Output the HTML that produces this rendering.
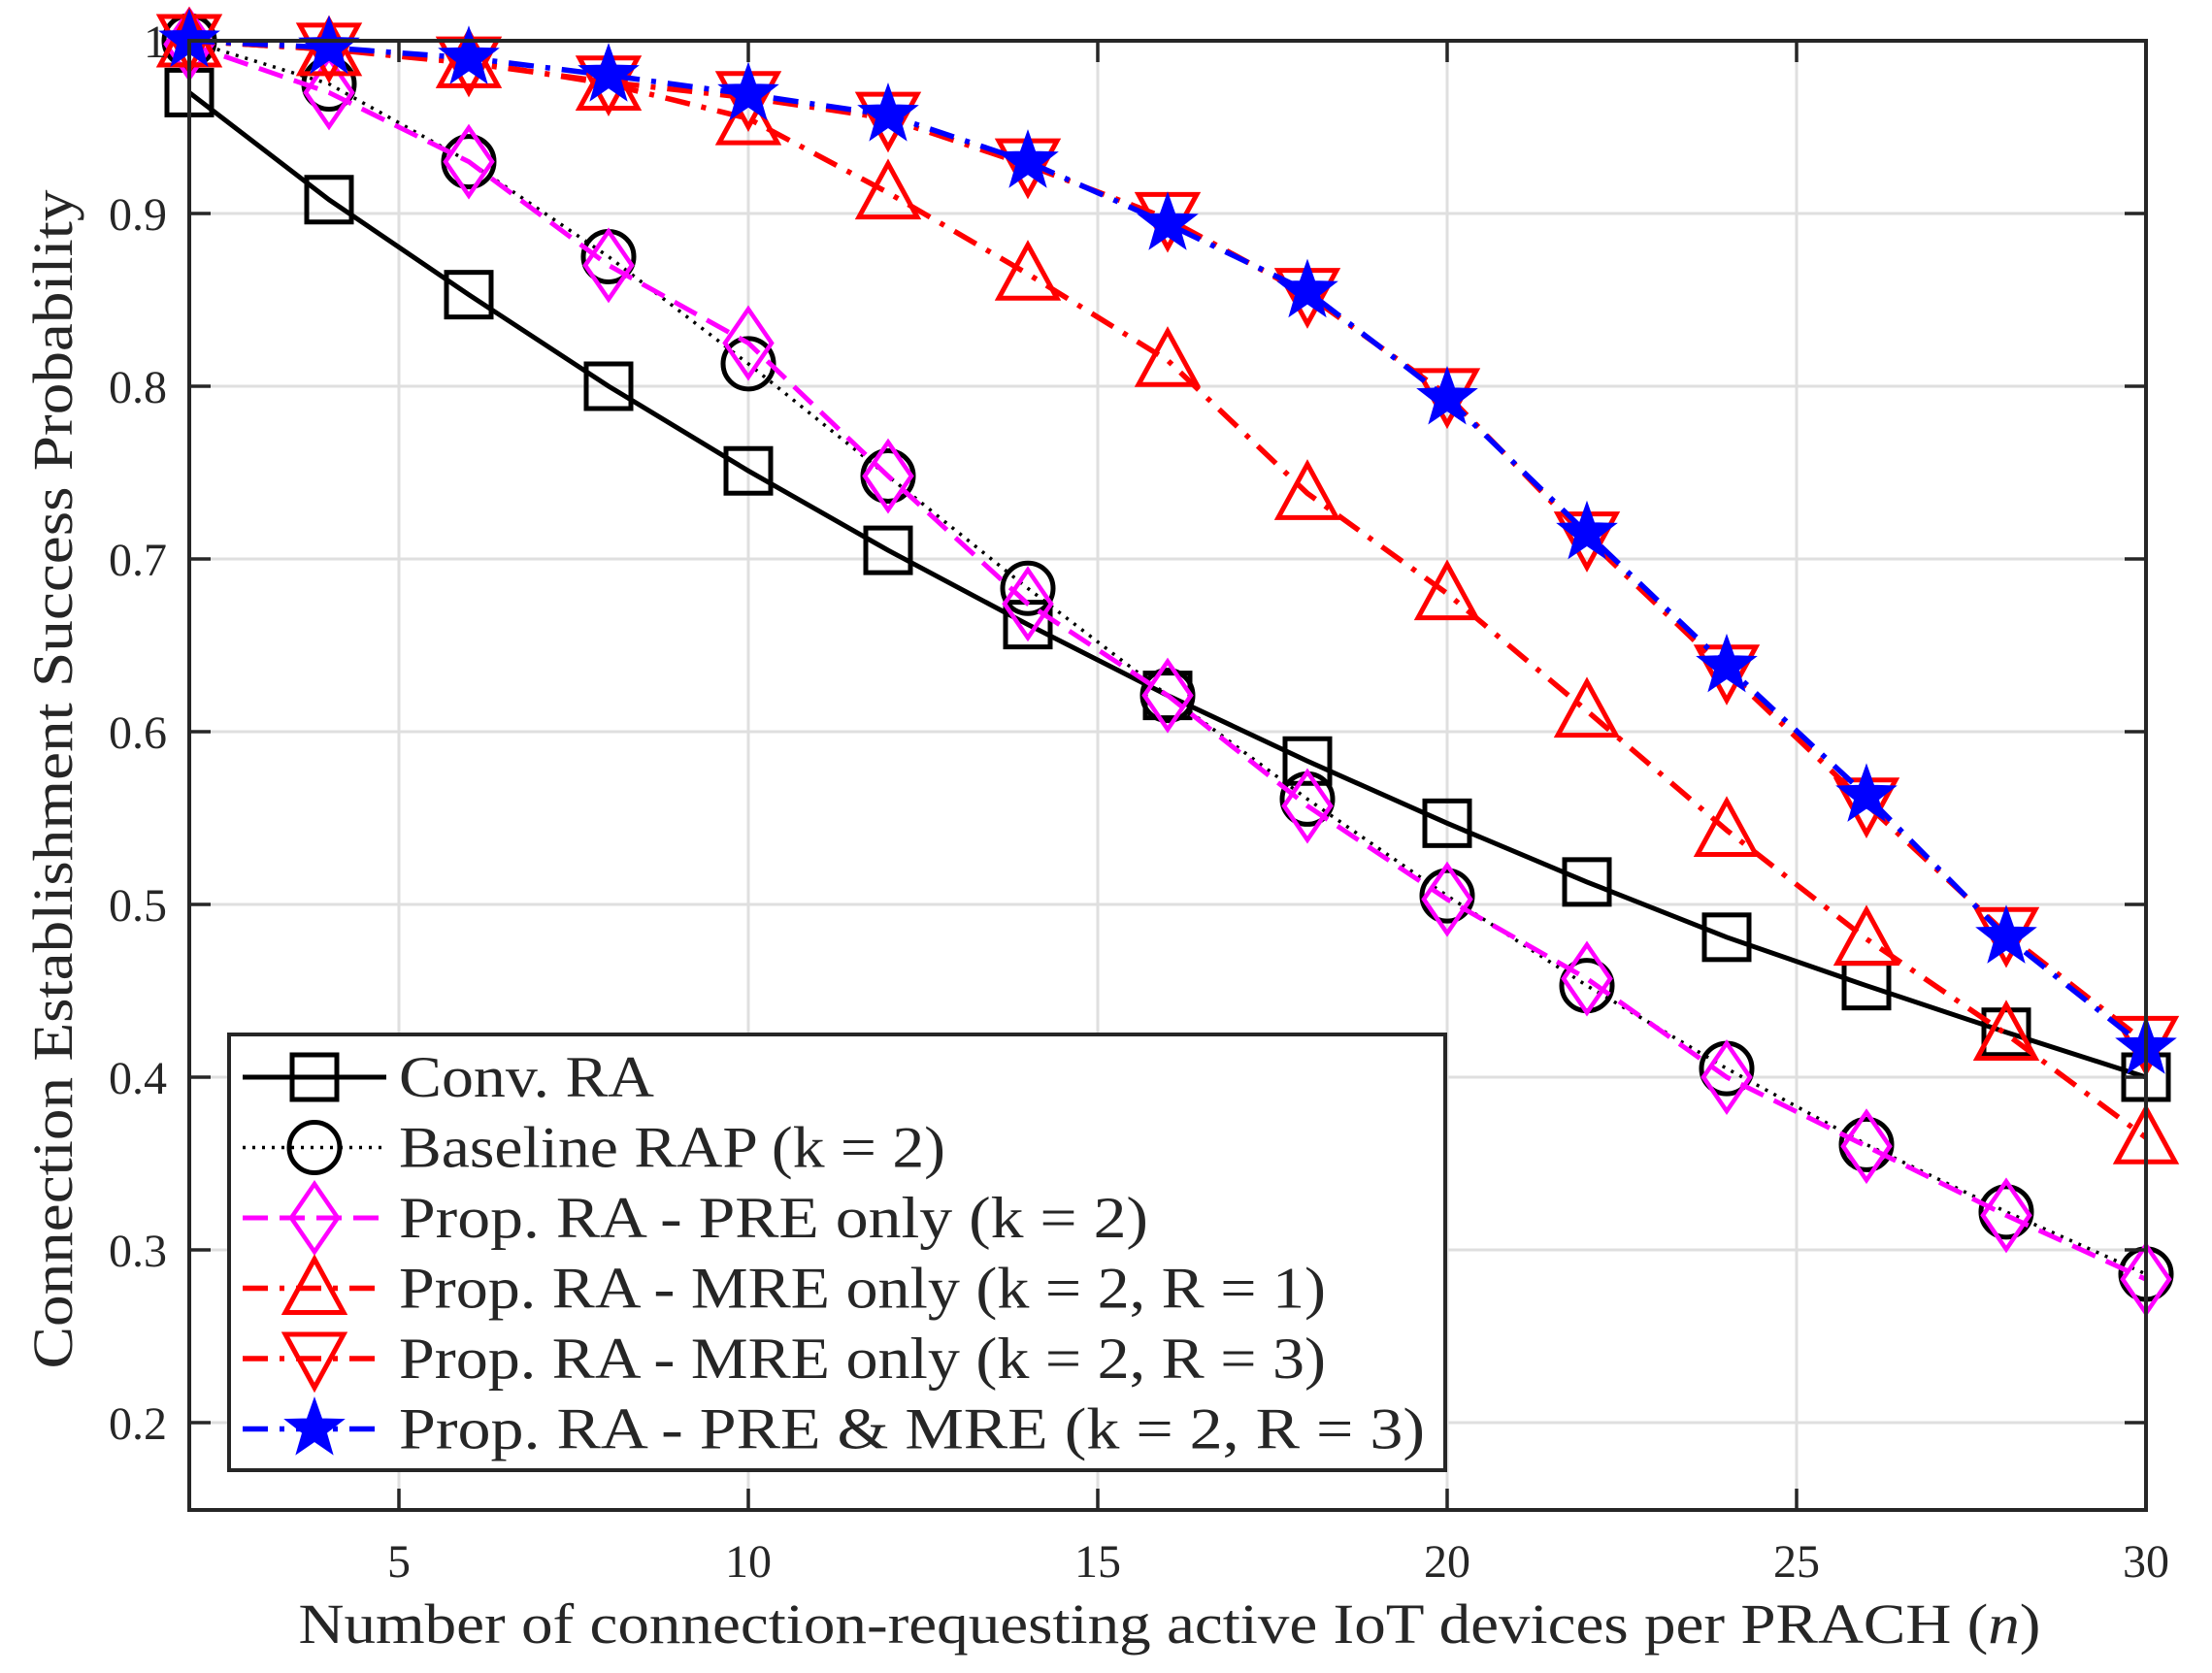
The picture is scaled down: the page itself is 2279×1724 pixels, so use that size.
<!DOCTYPE html>
<html><head><meta charset="utf-8"><style>
html,body{margin:0;padding:0;background:#fff}
svg{display:block}
text{font-family:"Liberation Serif",serif;fill:#262626}
</style></head><body>
<svg id="chart" width="2279" height="1724" viewBox="0 0 2279 1724" xmlns="http://www.w3.org/2000/svg">
<rect width="2279" height="1724" fill="#fff"/>
<g id="grid"></g>
<g id="series"></g>
<g id="axes"></g>
<g id="legend"></g>
<text x="1205" y="1693" font-size="58" text-anchor="middle" textLength="1795" lengthAdjust="spacingAndGlyphs">Number of connection-requesting active IoT devices per PRACH (<tspan font-style="italic">n</tspan>)</text>
<text transform="translate(74,803) rotate(-90)" font-size="58" text-anchor="middle" textLength="1215" lengthAdjust="spacingAndGlyphs">Connection Establishment Success Probability</text>
</svg>
<script>
const xValues = [2,4,6,8,10,12,14,16,18,20,22,24,26,28,30];
const convRA = [0.97,0.908,0.853,0.80,0.751,0.705,0.662,0.621,0.583,0.547,0.513,0.481,0.453,0.426,0.40];
const baselineRAP = [1.0,0.975,0.93,0.875,0.813,0.748,0.683,0.621,0.561,0.505,0.453,0.405,0.361,0.322,0.286];
const preOnly = [0.998,0.97,0.93,0.87,0.825,0.748,0.674,0.621,0.557,0.503,0.457,0.40,0.36,0.32,0.283];
const mreR1 = [1.0,0.995,0.988,0.975,0.955,0.912,0.865,0.815,0.738,0.68,0.612,0.543,0.48,0.425,0.365];
const mreR3 = [1.0,0.995,0.987,0.976,0.967,0.955,0.928,0.897,0.853,0.795,0.712,0.635,0.558,0.483,0.42];
const preMre = [1.0,0.996,0.99,0.98,0.969,0.957,0.93,0.894,0.855,0.793,0.715,0.638,0.563,0.481,0.417];
const xTicks = [5,10,15,20,25,30];
const yTicks = [0.2,0.3,0.4,0.5,0.6,0.7,0.8,0.9,1];
const yTickLabels = ["0.2","0.3","0.4","0.5","0.6","0.7","0.8","0.9","1"];
const legendLabels = ["Conv. RA","Baseline RAP (k = 2)","Prop. RA - PRE only (k = 2)","Prop. RA - MRE only (k = 2, R = 1)","Prop. RA - MRE only (k = 2, R = 3)","Prop. RA - PRE & MRE (k = 2, R = 3)"];

const L=195,R=2211,T=42,B=1556;
const XMIN=2,XMAX=30,YMIN=0.2-90/1780,YMAX=1.0;
const sx=v=>L+(v-XMIN)/(XMAX-XMIN)*(R-L);
const sy=v=>B-(v-YMIN)/(YMAX-YMIN)*(B-T);
const NS="http://www.w3.org/2000/svg";
function mk(tag,attrs,parent){const e=document.createElementNS(NS,tag);for(const k in attrs)e.setAttribute(k,attrs[k]);parent.appendChild(e);return e;}
const grid=document.getElementById('grid'),axes=document.getElementById('axes'),ser=document.getElementById('series'),leg=document.getElementById('legend');

xTicks.forEach(t=>{
  const g=mk('line',{x1:sx(t),x2:sx(t),y1:T,y2:B,stroke:'#dfdfdf','stroke-width':3},grid);
  
  
  const tk=mk('path',{d:`M${sx(t)},${B}v-22M${sx(t)},${T}v22`,stroke:'#262626','stroke-width':3.5},axes);
  
  
  const lb=mk('text',{x:sx(t),y:1625,'font-size':48,'text-anchor':'middle'},axes);
  lb.textContent=t;
  
  
});
yTicks.forEach((t,i)=>{
  const g=mk('line',{x1:L,x2:R,y1:sy(t),y2:sy(t),stroke:'#dfdfdf','stroke-width':3},grid);
  
  
  const tk=mk('path',{d:`M${L},${sy(t)}h22M${R},${sy(t)}h-22`,stroke:'#262626','stroke-width':3.5},axes);
  
  
  const lb=mk('text',{x:172,y:sy(t)+17,'font-size':48,'text-anchor':'end'},axes);
  lb.textContent=yTickLabels[i];
  
  
});
const frame=mk('rect',{x:L,y:T,width:R-L,height:B-T,fill:'none',stroke:'#262626','stroke-width':4},axes);



function marker(type,x,y,color,parent){
  let e;
  if(type==='square') e=mk('rect',{x:x-23,y:y-23,width:46,height:46,fill:'none',stroke:color,'stroke-width':5},parent);
  else if(type==='circle') e=mk('circle',{cx:x,cy:y,r:26,fill:'none',stroke:color,'stroke-width':5},parent);
  else if(type==='diamond') e=mk('path',{d:`M${x},${y-35}L${x+24},${y}L${x},${y+35}L${x-24},${y}Z`,fill:'none',stroke:color,'stroke-width':4.5},parent);
  else if(type==='up') e=mk('path',{d:`M${x},${y-30}L${x+30},${y+25}L${x-30},${y+25}Z`,fill:'none',stroke:color,'stroke-width':5},parent);
  else if(type==='down') e=mk('path',{d:`M${x},${y+30}L${x+30},${y-25}L${x-30},${y-25}Z`,fill:'none',stroke:color,'stroke-width':5},parent);
  else if(type==='star'){
    let p='';for(let i=0;i<10;i++){const r=i%2?13:32;const a=-Math.PI/2+i*Math.PI/5;p+=(i?'L':'M')+(x+r*Math.cos(a)).toFixed(1)+','+(y+r*Math.sin(a)).toFixed(1);}
    e=mk('path',{d:p+'Z',fill:color,stroke:color,'stroke-width':1},parent);
  }
  return e;
}
const seriesDefs=[
  {name:'conv-ra',data:convRA,color:'#000',dash:'',w:5,m:'square'},
  {name:'baseline-rap',data:baselineRAP,color:'#000',dash:'3 7',w:3.5,m:'circle'},
  {name:'pre-only',data:preOnly,color:'#ff00ff',dash:'26 12',w:5,m:'diamond'},
  {name:'mre-only-r1',data:mreR1,color:'#ff0000',dash:'26 12 5 12',w:5.5,m:'up'},
  {name:'mre-only-r3',data:mreR3,color:'#ff0000',dash:'26 12 5 12',w:5.5,m:'down'},
  {name:'pre-mre',data:preMre,color:'#0000ff',dash:'26 12 5 12',w:5.5,m:'star'}
];
seriesDefs.forEach(s=>{
  const g=mk('g',{},ser);
  
  
  const pts=xValues.map((x,i)=>sx(x).toFixed(1)+','+sy(s.data[i]).toFixed(1)).join(' ');
  const pl=mk('polyline',{points:pts,fill:'none',stroke:s.color,'stroke-width':s.w,'stroke-dasharray':s.dash},g);
  
  
  xValues.forEach((x,i)=>{
    const e=marker(s.m,sx(x),sy(s.data[i]),s.color,g);
    
    
  });
});

const lbox=mk('rect',{x:236,y:1066,width:1253,height:449,fill:'#fff',stroke:'#262626','stroke-width':4},leg);


const widths=[263,563,772,955,955,1057];
seriesDefs.forEach((s,i)=>{
  const y=1110+i*72.5;
  const g=mk('g',{},leg);
  
  
  mk('line',{x1:250,x2:398,y1:y,y2:y,stroke:s.color,'stroke-width':s.w,'stroke-dasharray':s.dash},g);
  marker(s.m,324,y,s.color,g);
  const t=mk('text',{x:411,y:y+20,'font-size':60,fill:'#000',textLength:widths[i],lengthAdjust:'spacingAndGlyphs'},g);
  t.textContent=legendLabels[i];
  
  
});
</script>
</body></html>
